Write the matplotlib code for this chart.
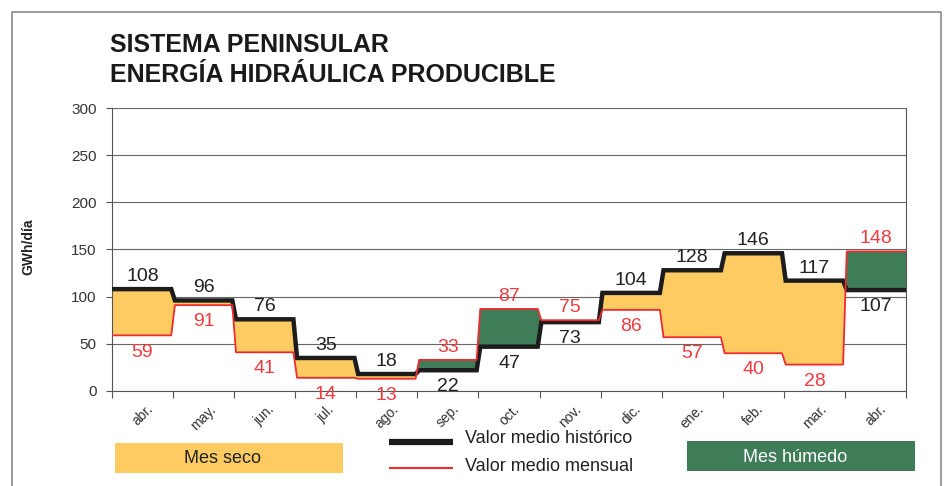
import matplotlib
matplotlib.use('Agg')
import matplotlib.pyplot as plt
from matplotlib.lines import Line2D
from matplotlib.patches import Rectangle
import numpy as np

plt.rcParams['font.family'] = ['Liberation Sans', 'DejaVu Sans']

meses = ['abr.', 'may.', 'jun.', 'jul.', 'ago.', 'sep.', 'oct.', 'nov.', 'dic.',
         'ene.', 'feb.', 'mar.', 'abr.']
historico = [108, 96, 76, 35, 18, 22, 47, 73, 104, 128, 146, 117, 107]
mensual = [59, 91, 41, 14, 13, 33, 87, 75, 86, 57, 40, 28, 148]

AMARILLO = '#FDCB62'
VERDE = '#3F7D59'
ROJO = '#EE2B2F'
ROJO_TXT = '#EF3B40'
NEGRO = '#1c1c1c'


def escalones(vals, s=0.03):
    # step line with short sloped transitions between months
    xs, ys = [], []
    n = len(vals)
    for i, v in enumerate(vals):
        x0 = i if i == 0 else i + s
        x1 = i + 1 if i == n - 1 else i + 1 - s
        xs += [x0, x1]
        ys += [v, v]
    return np.array(xs), np.array(ys)


fig = plt.figure(figsize=(9.44, 4.86), dpi=100)
ax = fig.add_axes([112 / 944, 1 - 391 / 486, 794 / 944, 283 / 486])

xh, yh = escalones(historico)
xm, ym = escalones(mensual)

ax.fill_between(xh, ym, yh, where=yh >= ym, interpolate=True, color=AMARILLO, lw=0, zorder=2)
ax.fill_between(xh, ym, yh, where=yh <= ym, interpolate=True, color=VERDE, lw=0, zorder=2)
ax.plot(xh, yh, color=NEGRO, lw=3.2, solid_joinstyle='miter', zorder=3)
ax.plot(xm, ym, color=ROJO, lw=1.3, zorder=4)

# value labels
for i, (h, m) in enumerate(zip(historico, mensual)):
    c = i + 0.5
    if h >= m:
        arriba, abajo = (h, '#222222'), (m, ROJO_TXT)
    else:
        arriba, abajo = (m, ROJO_TXT), (h, '#222222')
    ax.annotate(str(arriba[0]), (c, arriba[0]), xytext=(0, 9), textcoords='offset points',
                ha='center', va='center', fontsize=14, color=arriba[1], zorder=5)
    ax.annotate(str(abajo[0]), (c, abajo[0]), xytext=(0, -12), textcoords='offset points',
                ha='center', va='center', fontsize=14, color=abajo[1], zorder=5)

ax.set_xlim(0, 13)
ax.set_ylim(0, 300)
ax.set_yticks(range(0, 301, 50))
ax.yaxis.grid(True, color='#666666', lw=0.8)
ax.set_axisbelow(True)
ax.tick_params(axis='y', length=4, width=0.8, color='#555555', pad=7, labelsize=11, labelcolor='#333333')

ax.set_xticks(np.arange(13) + 0.5)
ax.set_xticklabels(meses, rotation=45, ha='center', va='top', fontsize=10, color='#333333')
ax.set_xticks(np.arange(14), minor=True)
ax.tick_params(axis='x', which='major', length=0, pad=8)
ax.tick_params(axis='x', which='minor', length=5, width=0.8, color='#555555')

for side in ['left', 'right', 'bottom']:
    ax.spines[side].set_color('#555555')
    ax.spines[side].set_linewidth(0.8)
ax.spines['top'].set_visible(False)

ax.set_ylabel('GWh/día', fontsize=10, fontweight='bold', color='#222222')
ax.yaxis.set_label_coords(35 / 944, 1 - 247 / 486, transform=fig.transFigure)

fig.text(110 / 944, 1 - 52 / 486, 'SISTEMA PENINSULAR', fontsize=18, fontweight='bold',
         color='#1a1a1a', va='baseline')
fig.text(110 / 944, 1 - 82 / 486, 'ENERGÍA HIDRÁULICA PRODUCIBLE', fontsize=18, fontweight='bold',
         color='#1a1a1a', va='baseline')

# legend
fig.patches.append(Rectangle((115 / 944, 1 - 473 / 486), 228 / 944, 30 / 486,
                             transform=fig.transFigure, color=AMARILLO, lw=0))
fig.text(223 / 944, 1 - 458 / 486, 'Mes seco', fontsize=13, color='#222222', ha='center', va='center')
fig.patches.append(Rectangle((687 / 944, 1 - 471 / 486), 228 / 944, 30 / 486,
                             transform=fig.transFigure, color=VERDE, lw=0))
fig.text(795 / 944, 1 - 457 / 486, 'Mes húmedo', fontsize=13, color='white', ha='center', va='center')
fig.add_artist(Line2D([389 / 944, 453 / 944], [1 - 442 / 486] * 2, color=NEGRO, lw=4.5,
                      solid_capstyle='butt'))
fig.add_artist(Line2D([389 / 944, 453 / 944], [1 - 468 / 486] * 2, color=ROJO, lw=1.5,
                      solid_capstyle='butt'))
fig.text(465 / 944, 1 - 438 / 486, 'Valor medio histórico', fontsize=13, color='#222222', va='center')
fig.text(465 / 944, 1 - 466 / 486, 'Valor medio mensual', fontsize=13, color='#222222', va='center')

# outer frame
marco = '#8a8a8a'
fig.add_artist(Line2D([12 / 944, 12 / 944, 941 / 944, 941 / 944],
                      [0, 1 - 12 / 486, 1 - 12 / 486, 0], color=marco, lw=1.2))

fig.savefig('out.png', dpi=100)
